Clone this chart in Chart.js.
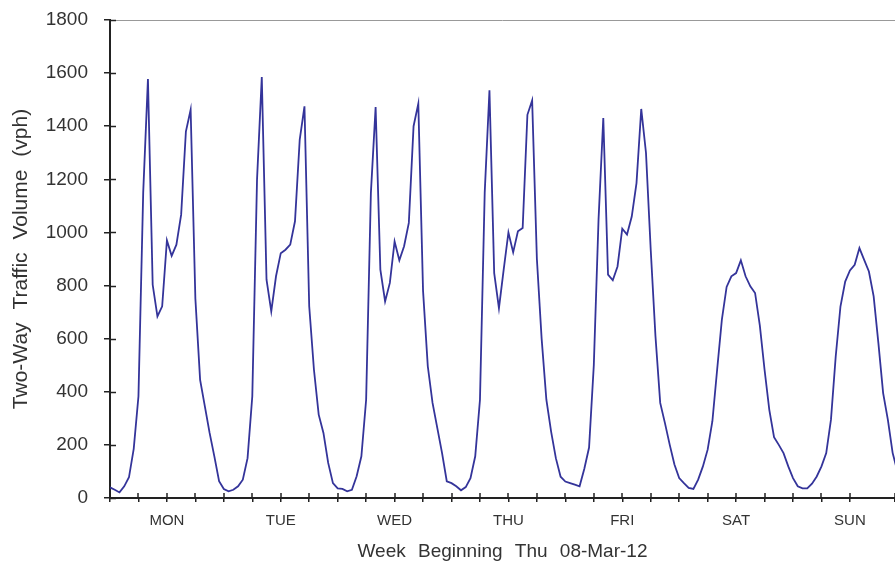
<!DOCTYPE html>
<html><head><meta charset="utf-8">
<script src="https://cdn.jsdelivr.net/npm/chart.js@4/dist/chart.umd.min.js"></script>
<style>html,body{margin:0;padding:0;background:#fff;overflow:hidden}#wrap{width:895px;height:569px}</style>
</head><body><div id="wrap"><canvas id="c" width="895" height="569"></canvas></div>
<script>
const dayLabels = ['MON','TUE','WED','THU','FRI','SAT','SUN'];
const yTicks = [0,200,400,600,800,1000,1200,1400,1600,1800];
const mon = [40,31,21,44,78,185,383,1150,1578,803,684,722,970,912,954,1067,1380,1462,750,445,345,245,157,63];
const tue = [34,25,31,44,69,150,383,1200,1585,822,703,835,922,935,954,1042,1350,1475,722,483,314,245,132,56];
const wed = [36,34,25,31,82,157,370,1148,1472,860,740,810,966,895,948,1036,1400,1485,780,496,358,264,170,63];
const thu = [56,44,29,41,75,157,370,1150,1535,847,715,860,1000,925,1004,1017,1443,1497,900,600,370,250,150,80];
const fri = [62,56,50,44,110,190,500,1050,1431,841,820,872,1014,992,1060,1186,1465,1300,935,609,358,282,201,126];
const sat = [75,56,38,34,69,119,182,289,483,672,795,835,847,895,835,797,772,650,483,332,229,200,169,119];
const sun = [75,44,36,36,54,81,119,169,295,533,721,815,857,878,941,897,853,759,583,395,294,170,100,60];

const hourly = [].concat(mon,tue,wed,thu,fri,sat,sun);
const points = hourly.map((v,i)=>({x:i,y:v}));

const frame = {
  id:'frame',
  beforeDraw(chart){
    try { chart.ctx.wordSpacing = '7px'; } catch(e) {}
  },
  afterDraw(chart){
    const {ctx, chartArea:a, scales} = chart;
    ctx.save();
    ctx.strokeStyle = '#999'; ctx.lineWidth = 1;
    ctx.beginPath(); ctx.moveTo(a.left, a.top+0.5); ctx.lineTo(a.right, a.top+0.5); ctx.stroke();
    ctx.strokeStyle = '#222'; ctx.lineWidth = 1.5;
    scales.y.ticks.forEach(t=>{
      const p = Math.round(scales.y.getPixelForValue(t.value))+0.5;
      ctx.beginPath(); ctx.moveTo(a.left, p); ctx.lineTo(a.left+6, p); ctx.stroke();
    });
    scales.x.ticks.forEach(t=>{
      const p = Math.round(scales.x.getPixelForValue(t.value));
      ctx.beginPath(); ctx.moveTo(p, a.bottom); ctx.lineTo(p, a.bottom-5); ctx.stroke();
    });
    ctx.restore();
  }
};

new Chart(document.getElementById('c'), {
  type:'line',
  data:{datasets:[{data:points, borderColor:'#34349a', borderWidth:1.8, pointRadius:0, tension:0, fill:false}]},
  options:{
    responsive:false, animation:false, events:[],
    layout:{padding:{top:20,right:0,bottom:0,left:0}},
    plugins:{legend:{display:false}, tooltip:{enabled:false}},
    scales:{
      x:{type:'linear', min:0, max:165.5,
        afterFit:(s)=>{s.height=71; s.paddingLeft=0; s.paddingRight=0;},
        border:{display:true,color:'#222',width:2},
        grid:{display:true, drawOnChartArea:false, color:'#222', lineWidth:1.5, tickLength:4},
        ticks:{stepSize:6, autoSkip:false, maxRotation:0, padding:10, color:'#333',
          font:{family:'Liberation Sans, Arial', size:15},
          callback:(v)=> (v%24===12 ? dayLabels[Math.floor(v/24)] : '')},
        title:{display:true, text:'Week Beginning Thu 08-Mar-12', color:'#333',
          font:{family:'Liberation Sans, Arial', size:19}, padding:{top:0,bottom:6}}
      },
      y:{min:0, max:1800,
        afterFit:(s)=>{s.width=110; s.paddingTop=0; s.paddingBottom=0;},
        afterBuildTicks:(s)=>{s.ticks = yTicks.map(v=>({value:v}));},
        border:{display:true,color:'#222',width:2},
        grid:{display:true, drawOnChartArea:false, color:'#222', lineWidth:1.5, tickLength:6},
        ticks:{padding:16, color:'#333', font:{family:'Liberation Sans, Arial', size:19},
          callback:(v)=>String(v)},
        title:{display:true, text:'Two-Way Traffic Volume (vph)', color:'#333',
          font:{family:'Liberation Sans, Arial', size:21}, padding:{top:9,bottom:0}}
      }
    }
  },
  plugins:[frame]
});
</script></body></html>
